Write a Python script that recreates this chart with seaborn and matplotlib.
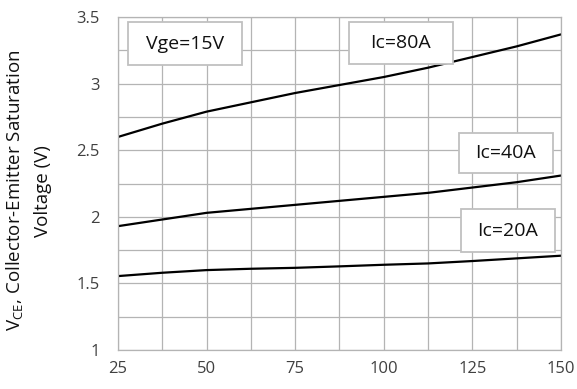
import matplotlib
matplotlib.use('Agg')
import matplotlib.pyplot as plt
from matplotlib.patches import Rectangle
import seaborn as sns
import pandas as pd

# junction temperature (deg C)
temps = [25, 37.5, 50, 62.5, 75, 87.5, 100, 112.5, 125, 137.5, 150]
# VCE(sat)
vce_80a = [2.60, 2.70, 2.79, 2.86, 2.93, 2.99, 3.05, 3.12, 3.20, 3.28, 3.37]
vce_40a = [1.93, 1.98, 2.03, 2.06, 2.09, 2.12, 2.15, 2.18, 2.22, 2.26, 2.31]
vce_20a = [1.555, 1.58, 1.60, 1.61, 1.617, 1.628, 1.64, 1.65, 1.668, 1.688, 1.708]
series_names = ['Ic=80A', 'Ic=40A', 'Ic=20A']

rows = []
for name, vals in zip(series_names, [vce_80a, vce_40a, vce_20a]):
    for t, v in zip(temps, vals):
        rows.append({'T': t, 'VCE': v, 'series': name})
df = pd.DataFrame(rows)

sns.set_theme(style='whitegrid')
plt.rcParams['font.family'] = ['Open Sans', 'DejaVu Sans']

fig = plt.figure(figsize=(5.77, 3.89), dpi=100)
ax = fig.add_axes([0.2045, 0.1003, 0.7675, 0.8557])

sns.lineplot(data=df, x='T', y='VCE', hue='series',
             palette=['black', 'black', 'black'], linewidth=1.6,
             legend=False, ax=ax)

ax.set_xlim(25, 150)
ax.set_ylim(1, 3.5)
ax.set_xticks([25, 50, 75, 100, 125, 150])
ax.set_xticks([37.5, 62.5, 87.5, 112.5, 137.5], minor=True)
ax.set_yticks([1, 1.5, 2, 2.5, 3, 3.5])
ax.set_yticks([1.25, 1.75, 2.25, 2.75, 3.25], minor=True)
ax.set_yticklabels(['1', '1.5', '2', '2.5', '3', '3.5'])
ax.grid(which='both', color='#b4b4b4', linewidth=0.9)
ax.tick_params(which='both', length=0, labelsize=12, colors='#404040')
ax.tick_params(axis='y', pad=13)
ax.tick_params(axis='x', pad=8)
for s in ax.spines.values():
    s.set_color('#b4b4b4')
    s.set_linewidth(0.9)

ax.set_xlabel('')
ax.set_ylabel('')
fig.text(0.026, 0.51, 'V$_{\\mathregular{CE}}$, Collector-Emitter Saturation',
         rotation=90, ha='center', va='center', fontsize=13.5, color='#111111')
fig.text(0.074, 0.51, 'Voltage (V)', rotation=90, ha='center', va='center',
         fontsize=13.5, color='#111111')

# annotation boxes (axes fraction: x0, x1, y0, y1)
boxes = [('Vge=15V', 0.023, 0.280, 0.856, 0.985),
         ('Ic=80A', 0.521, 0.756, 0.859, 0.985),
         ('Ic=40A', 0.770, 0.982, 0.532, 0.652),
         ('Ic=20A', 0.774, 0.986, 0.294, 0.423)]
for label, x0, x1, y0, y1 in boxes:
    ax.add_patch(Rectangle((x0, y0), x1 - x0, y1 - y0, transform=ax.transAxes,
                           facecolor='white', edgecolor='#c0c0c0', linewidth=1.3, zorder=5))
    ax.text((x0 + x1) / 2, (y0 + y1) / 2, label, transform=ax.transAxes,
            ha='center', va='center', fontsize=14, color='#111111', zorder=6)

fig.savefig('out.png', dpi=100)
